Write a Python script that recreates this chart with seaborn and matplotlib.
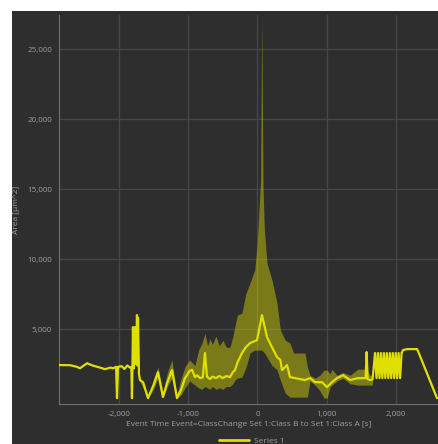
import matplotlib
matplotlib.use("Agg")
import matplotlib.pyplot as plt
from matplotlib.patches import Rectangle
from matplotlib.ticker import FuncFormatter, MultipleLocator, FixedLocator
import seaborn as sns
import pandas as pd

# ---- data ----
time_s = [-2864, -2700, -2605, -2561, -2460, -2380, -2273, -2200, -2120, -2085,
          -2040, -2027, -2013, -1960, -1920, -1880, -1840, -1820, -1811, -1804,
          -1797, -1783, -1768, -1750, -1739, -1730, -1724, -1710, -1696, -1650,
          -1580, -1500, -1436, -1364, -1300, -1234, -1162, -1100, -1046, -980,
          -945, -902, -870, -830, -790, -758, -729, -685, -650, -600,
          -550, -500, -450, -397, -354, -325, -290, -224, -170, -108,
          -7, 65, 137, 209, 281, 330, 354, 426, 469, 541,
          685, 758, 830, 931, 1003, 1075, 1147, 1234, 1335, 1450,
          1560, 1575, 1590, 1623, 1660, 1696, 1717, 1738, 1760, 1781,
          1802, 1824, 1845, 1866, 1888, 1909, 1930, 1952, 1973, 1994,
          2015, 2036, 2058, 2079, 2100, 2157, 2302, 2316, 2590]
mean_area = [2430, 2420, 2300, 2200, 2560, 2400, 2250, 2140, 2250, 2200,
             2300, 70, 2300, 2350, 2150, 2400, 2250, 2300, 70, 2300,
             5140, 2200, 5140, 2500, 6000, 2400, 5800, 1800, 1360, 1200,
             70, 1000, 1930, 150, 1200, 2070, 70, 700, 1500, 2000,
             2100, 1570, 1700, 1500, 1550, 3290, 1600, 1430, 1600, 1500,
             1650, 1500, 1650, 1570, 1930, 2070, 2600, 3290, 3700, 4000,
             4210, 6000, 4430, 3710, 3000, 2800, 2070, 2430, 1570, 1500,
             1360, 1500, 1210, 1210, 860, 1210, 1500, 1710, 1360, 1500,
             1500, 3360, 1430, 1360, 1400, 3290, 1500, 3290, 1500, 3290,
             1500, 3290, 1500, 3290, 1500, 3290, 1500, 3290, 1500, 3290,
             1500, 3290, 1500, 3290, 3500, 3570, 3570, 3430, 70]

band_time = [-1700, -1580, -1500, -1436, -1364, -1300, -1234, -1162, -1100, -1046,
             -980, -902, -850, -800, -758, -720, -685, -650, -600, -550,
             -500, -450, -397, -354, -325, -290, -224, -170, -108, -40,
             -7, 45, 62, 80, 100, 137, 209, 281, 330, 400,
             469, 520, 685, 720, 758, 830, 900, 960, 1003, 1050,
             1075, 1147, 1234, 1335, 1450, 1560, 1623, 1660]
band_low = [1300, 70, 700, 1500, 100, 900, 1500, 70, 300, 800,
            1300, 1000, 800, 700, 900, 800, 700, 900, 700, 800,
            700, 900, 900, 1100, 1360, 1500, 1570, 2200, 3300, 3500,
            3500, 3500, 3500, 3400, 3300, 3000, 2400, 2100, 1360, 430,
            140, 140, 140, 140, 1300, 1000, 600, 70, 70, 900,
            1000, 1300, 1500, 1100, 1000, 1000, 1000, 1000]
band_high = [1500, 200, 1400, 2300, 500, 1900, 2800, 300, 1500, 2300,
             2800, 2400, 3500, 4000, 4700, 3800, 4300, 3900, 4500, 3800,
             4200, 3700, 3700, 4500, 5200, 6000, 6140, 7500, 8290, 9210,
             10860, 15640, 27400, 15000, 12070, 9710, 8500, 6860, 4930, 4210,
             4000, 3290, 3290, 2300, 1700, 1500, 1700, 2070, 2070, 1800,
             2140, 1700, 1900, 1700, 2140, 2140, 1700, 1700]

x_major = [-2000, -1000, 0, 1000, 2000]
y_major = [5000, 10000, 15000, 20000, 25000]

# ---- style ----
sns.set_style("dark")
BG = "#2e2e2e"
TXT = "#a0a0a0"
plt.rcParams["font.family"] = ["Open Sans", "DejaVu Sans"]

fig = plt.figure(figsize=(4.39, 4.44), dpi=100, facecolor="white")
fig.patches.append(Rectangle((12 / 439, 0), 1 - 12 / 439, 1 - 11 / 444,
                             transform=fig.transFigure, facecolor=BG,
                             edgecolor="none", zorder=-10))
ax = fig.add_axes([59 / 439, 1 - 404 / 444, 380 / 439, (404 - 15) / 444])
ax.set_facecolor(BG)

df = pd.DataFrame({"t": time_s, "area": mean_area})
ax.fill_between(band_time, band_low, band_high, color="#d8d800", alpha=0.45,
                linewidth=0, zorder=2)
sns.lineplot(data=df, x="t", y="area", ax=ax, color="#e0e000", linewidth=1.6,
             label="Series 1", sort=False, zorder=3)

ax.set_xlim(-2864, 2619)
ax.set_ylim(-350, 27430)

ax.xaxis.set_major_locator(FixedLocator(x_major))
ax.yaxis.set_major_locator(FixedLocator(y_major))
ax.xaxis.set_minor_locator(MultipleLocator(200))
ax.yaxis.set_minor_locator(MultipleLocator(1000))
fmt = FuncFormatter(lambda v, p: f"{v:,.0f}")
ax.xaxis.set_major_formatter(fmt)
ax.yaxis.set_major_formatter(fmt)

ax.grid(True, which="major", color="#474747", linewidth=0.9)
ax.grid(False, which="minor")
ax.tick_params(axis="both", which="major", colors="#808080", labelcolor=TXT,
               labelsize=5.8, length=3, width=0.8, pad=2, direction="out")
ax.tick_params(axis="both", which="minor", colors="#808080", length=1.8,
               width=0.7, direction="out")

for s in ["top", "right"]:
    ax.spines[s].set_visible(False)
for s in ["left", "bottom"]:
    ax.spines[s].set_color("#707070")
    ax.spines[s].set_linewidth(0.8)

ax.set_xlabel("Event Time Event=ClassChange Set 1:Class B to Set 1:Class A [s]",
              color=TXT, fontsize=6, labelpad=2)
ax.set_ylabel("Area [µm^2]", color=TXT, fontsize=6, labelpad=5)

leg = ax.legend(loc="center", bbox_to_anchor=(252 / 439, 1 - 441 / 444),
                bbox_transform=fig.transFigure, frameon=False, fontsize=6,
                handlelength=3.6, handletextpad=0.6)
for t in leg.get_texts():
    t.set_color(TXT)
for h in leg.get_lines():
    h.set_linewidth(2)

fig.savefig("out.png", dpi=100, facecolor="white")
